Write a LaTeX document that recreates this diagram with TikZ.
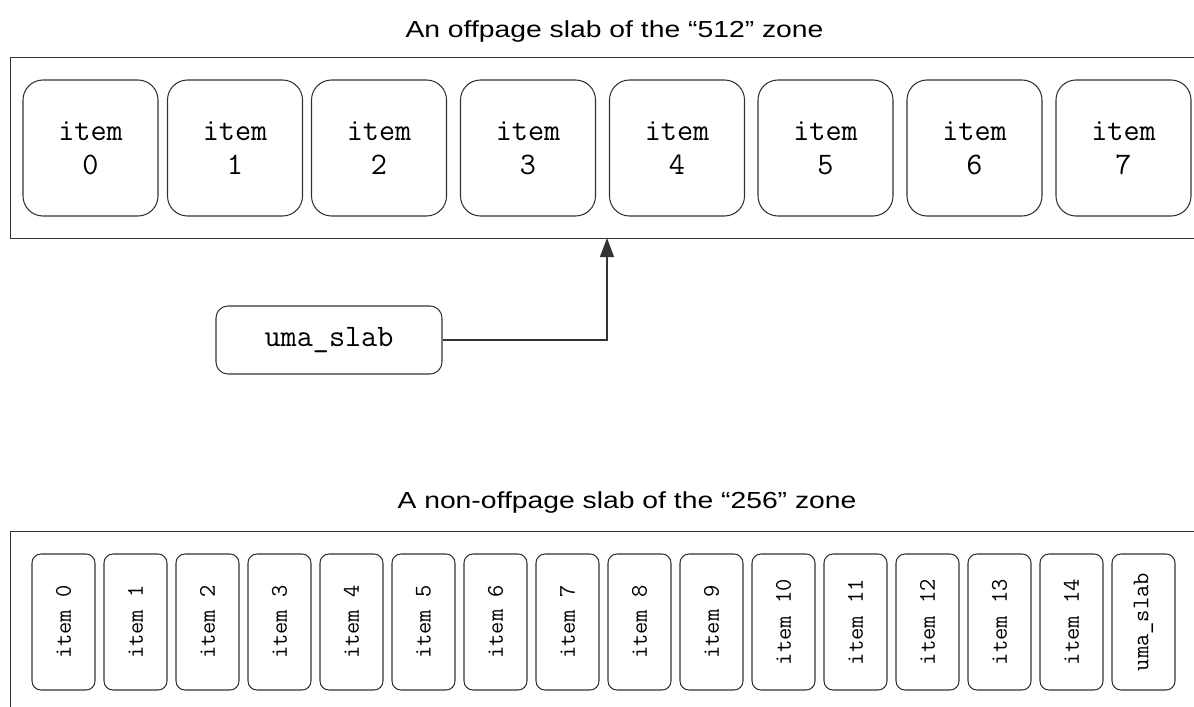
\documentclass[tikz,border=0pt]{standalone}
\usepackage{fontspec}
\setmainfont{Liberation Sans}
\newfontfamily\titlefont[FakeStretch=1.22]{Liberation Sans}
\usetikzlibrary{positioning}
\usetikzlibrary{arrows.meta}

\begin{document}
\begin{tikzpicture}[
			slab/.style={draw=black!80, line width=0.6pt, anchor=north west, minimum width=25cm},
			bigitem/.style={draw=black!80, line width=0.6pt, rounded corners=0.4cm, align=center, minimum width=2.7cm, minimum height=2.72cm, inner sep=0pt, font=\ttfamily\fontsize{17.8}{19.3}\selectfont},
			smallitem/.style={draw=black!80, line width=0.6pt, rounded corners=0.18cm, rotate=90, minimum width=2.72cm, minimum height=1.26cm, inner sep=0pt, font=\ttfamily\fontsize{13.6}{15}\selectfont},
			header/.style={draw=black!80, line width=0.6pt, rounded corners=0.24cm, minimum width=4.52cm, minimum height=1.36cm, inner sep=0pt, font=\ttfamily\fontsize{17.8}{19.3}\selectfont},
			caption/.style={anchor=base, font=\titlefont\fontsize{13.2}{16}\selectfont},
			edge from parent/.style={draw=black!80, line width=0.6pt, -{Triangle[length=0.38cm, width=0.28cm]}}
			]
			
			\clip (0,0) rectangle (23.88,-14.12);
			
			% Top slab
			\node[caption] (offtitle) at (12.29,-0.76) {An offpage slab of the “512” zone};
			\node[slab, minimum height=3.62cm] (offslab) at (0.2,-1.14) {};
			
			% Items of the offpage slab
			\node[bigitem] (big0) at (1.81,-2.96) {item\\0};
			\node[bigitem] (big1) at (4.70,-2.96) {item\\1};
			\node[bigitem] (big2) at (7.58,-2.96) {item\\2};
			\node[bigitem] (big3) at (10.56,-2.96) {item\\3};
			\node[bigitem] (big4) at (13.54,-2.96) {item\\4};
			\node[bigitem] (big5) at (16.51,-2.96) {item\\5};
			\node[bigitem] (big6) at (19.49,-2.96) {item\\6};
			\node[bigitem] (big7) at (22.47,-2.96) {item\\7};
			
			% Separate slab header
			\node[header] (slabhdr) at (6.58,-6.8) {uma\_slab};
			\coordinate (hit) at (12.14,-4.76);
			
			% Bottom slab
			\node[caption] (ontitle) at (12.54,-10.16) {A non-offpage slab of the “256” zone};
			\node[slab, minimum height=5cm] (onslab) at (0.2,-10.62) {};
			
			% Items of the non-offpage slab
			\node[smallitem] (small0) at (1.27,-12.44) {item 0};
			\node[smallitem] (small1) at (2.71,-12.44) {item 1};
			\node[smallitem] (small2) at (4.15,-12.44) {item 2};
			\node[smallitem] (small3) at (5.59,-12.44) {item 3};
			\node[smallitem] (small4) at (7.03,-12.44) {item 4};
			\node[smallitem] (small5) at (8.47,-12.44) {item 5};
			\node[smallitem] (small6) at (9.91,-12.44) {item 6};
			\node[smallitem] (small7) at (11.35,-12.44) {item 7};
			\node[smallitem] (small8) at (12.79,-12.44) {item 8};
			\node[smallitem] (small9) at (14.23,-12.44) {item 9};
			\node[smallitem] (small10) at (15.67,-12.44) {item 10};
			\node[smallitem] (small11) at (17.11,-12.44) {item 11};
			\node[smallitem] (small12) at (18.55,-12.44) {item 12};
			\node[smallitem] (small13) at (19.99,-12.44) {item 13};
			\node[smallitem] (small14) at (21.43,-12.44) {item 14};
			\node[smallitem] (smallhdr) at (22.87,-12.44) {uma\_slab};
			
			% Header points into the offpage slab
			\draw[edge from parent] (slabhdr.east) -| (hit);
			
		\end{tikzpicture}
\end{document}
